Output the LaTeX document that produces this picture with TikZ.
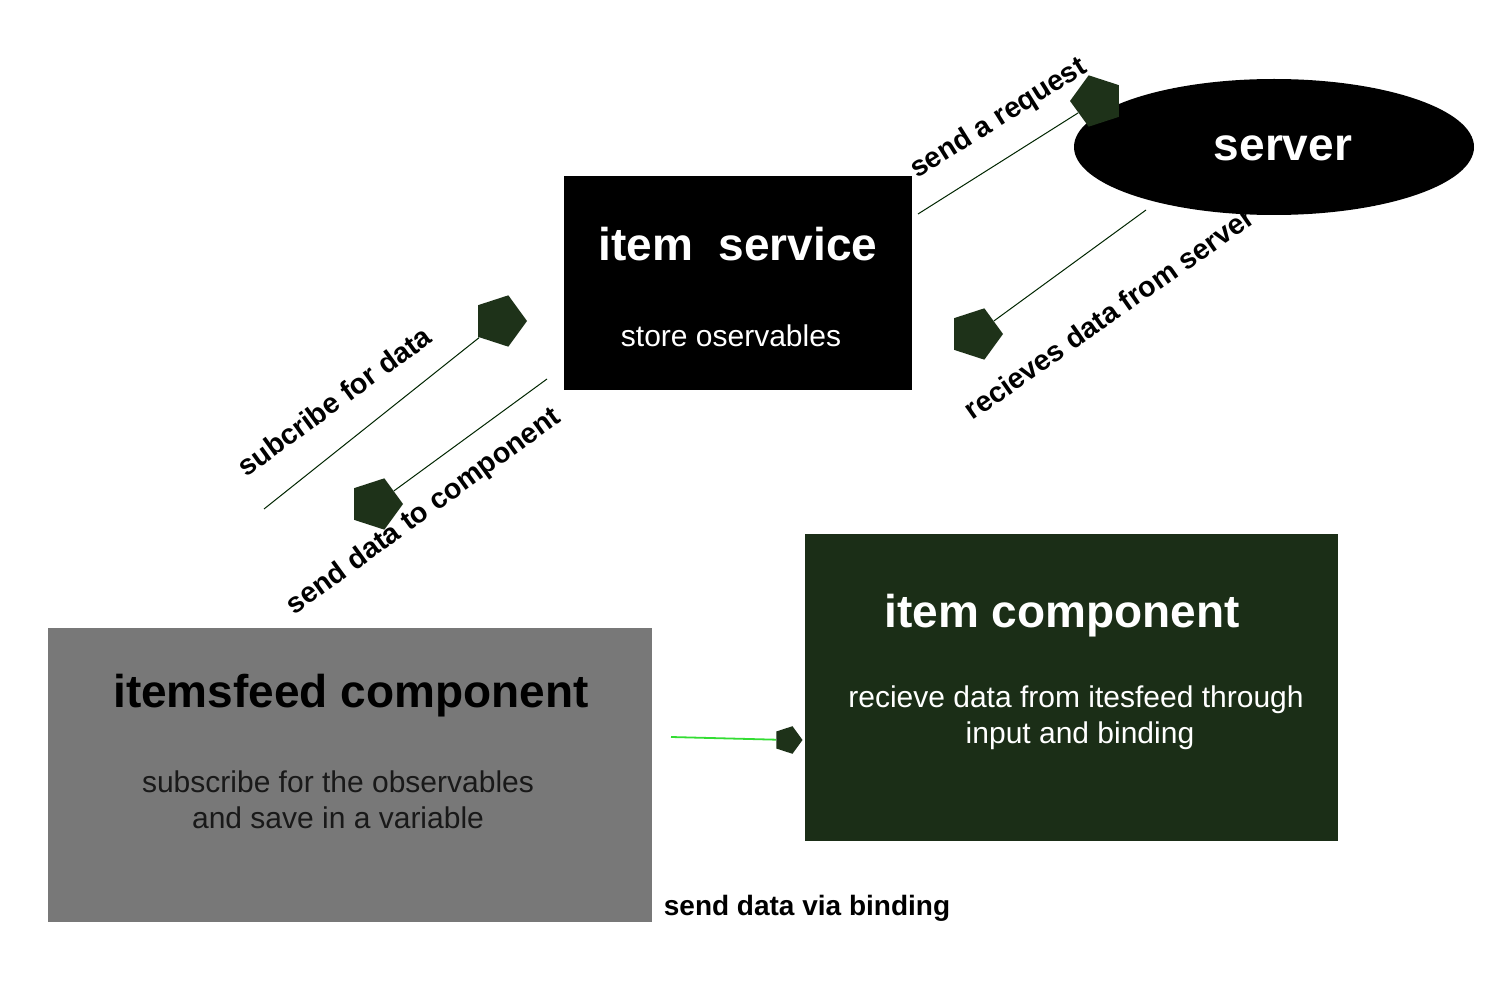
\documentclass[tikz,border=0pt]{standalone}
\usepackage{fontspec}
\setmainfont{Liberation Sans}
\usetikzlibrary{shapes.geometric}
\definecolor{dkgreen}{HTML}{1B2E17}
\definecolor{pentfill}{HTML}{1E3219}
\definecolor{boxgray}{HTML}{787878}
\definecolor{lgreen}{HTML}{33DD33}
\tikzset{
  boxnode/.style={rectangle, inner sep=0pt, draw=none},
  title/.style={font=\fontsize{23}{27}\selectfont\bfseries, anchor=base, inner sep=0pt},
  body/.style={font=\fontsize{15}{18}\selectfont, anchor=base, inner sep=0pt, align=center},
  lbl/.style={font=\fontsize{14.3}{17}\selectfont\bfseries, inner sep=0pt},
  pent/.style={regular polygon, regular polygon sides=5, fill=pentfill, inner sep=0pt, minimum size=27pt},
  conn/.style={draw=black!85!green, line width=0.5pt}
}
\begin{document}
\begin{tikzpicture}[x=0.5pt,y=-0.5pt]
\useasboundingbox (0,0) rectangle (1500,1000);
\fill[white] (0,0) rectangle (1500,1000);

% boxes
\node[boxnode, fill=black, minimum width=174pt, minimum height=107pt] (svc) at (738,283) {};
\node[title, text=white] (svct) at (738,261) {item\ \ service};
\node[body, text=white] (svcb) at (731,347) {store oservables};

\node[boxnode, fill=boxgray, minimum width=302pt, minimum height=147pt] (feed) at (350,775) {};
\node[title, text=black] (feedt) at (351,707) {itemsfeed component};
\node[body, text=black!90] (feedb1) at (338,792) {subscribe for the observables};
\node[body, text=black!90] (feedb2) at (338,828) {and save in a variable};

\node[boxnode, fill=dkgreen, minimum width=266.5pt, minimum height=153.5pt] (comp) at (1071.5,687.5) {};
\node[title, text=white] (compt) at (1062,627) {item component};
\node[body, text=white] (compb1) at (1076,707) {recieve data from itesfeed through};
\node[body, text=white] (compb2) at (1080,743) {input and binding};

\node[lbl, anchor=base, font=\fontsize{14}{17}\selectfont\bfseries] (bind) at (807,915) {send data via binding};

% rotated labels
\node[lbl, rotate=32] (l1) at (999,119) {send a request};
\node[lbl, rotate=35] (l2) at (1109,313) {recieves data from server};
\node[lbl, rotate=36] (l3) at (334,401) {subcribe for data};
\node[lbl, rotate=36] (l4) at (424,512) {send data to component};

% server
\node[ellipse, fill=black, inner sep=0pt, minimum width=200pt, minimum height=68pt] (srv) at (1274,147) {};
\node[title, text=white] (srvt) at (1283,161) {server};

% pentagons
\node[pent, shape border rotate=90] (p1) at (1097,101) {};
\node[pent, shape border rotate=-90] (p2) at (976,334) {};
\node[pent, shape border rotate=-90] (p3) at (500,321) {};
\node[pent, shape border rotate=-90] (p4) at (376,504) {};
\node[pent, shape border rotate=-90, minimum size=14.5pt] (p5) at (788,740) {};

% free ends
\coordinate (c1) at (918,214);
\coordinate (c2) at (1146,210);
\coordinate (c3) at (264,509);
\coordinate (c4) at (547,379);
\coordinate (c5) at (671,737);

\draw[conn] (c1) -- (p1);
\draw[conn] (c2) -- (p2);
\draw[conn] (c3) -- (p3);
\draw[conn] (c4) -- (p4);
\draw[draw=lgreen, line width=0.9pt] (c5) -- (p5);
\end{tikzpicture}
\end{document}
